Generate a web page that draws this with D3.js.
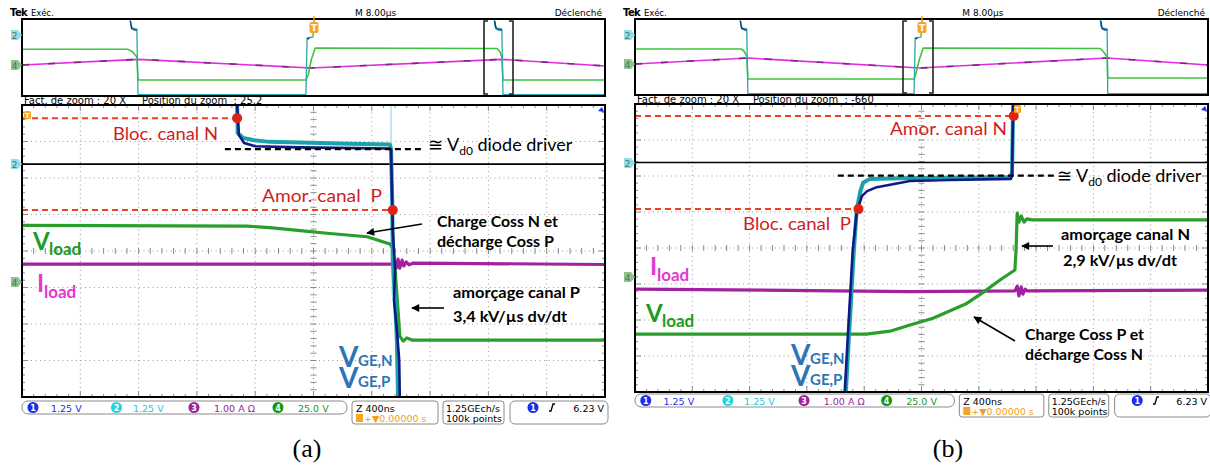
<!DOCTYPE html>
<html><head><meta charset="utf-8">
<script src="https://cdn.jsdelivr.net/npm/d3@7"></script>
<style>body{margin:0;background:#fff} svg{display:block} text{white-space:pre}</style>
</head><body><svg id="c" width="1210" height="468"></svg>
<script>
// ---------------- DATA (x in divisions 0..10, y in divisions 0..8 from bottom) ----------------
// Panel (a) overview strip
const aTopGreen   = [[0,4.85],[1.82,4.85],[1.90,4.57],[1.97,4.05],[1.99,1.66],[4.87,1.66],[4.91,2.18],[4.96,3.74],[5.03,4.99],[8.15,4.94],[8.20,4.57],[8.23,4.05],[8.25,1.66],[10,1.66]];
const aTopMagenta = [[0,3.22],[1.99,3.81],[4.96,2.91],[8.23,3.81],[10,3.12]];
const aTopCyan    = [[1.85,8],[1.87,7.27],[1.90,7.06],[1.97,6.96],[1.99,0.15],[4.87,0.15],[4.89,6.03],[4.99,6.13],[5.01,8],null,[8.10,8],[8.11,7.27],[8.15,7.06],[8.23,6.96],[8.25,0.15],[10,0.15]];
const aTopBlue    = [[1.86,7.8],[1.88,7.0],[1.94,6.85],[1.97,6.85],null,[4.89,5.9],[4.93,6.0],null,[8.11,7.8],[8.13,7.0],[8.19,6.85],[8.23,6.85]];
// Panel (a) zoomed view
const aRefLine  = [[0,6.38],[10,6.38]];
const aBlocN    = [[0,7.64],[3.69,7.64]];
const aAmorP    = [[0,5.12],[6.36,5.12]];
const aVd0      = [[3.48,6.79],[6.91,6.79]];
const aVgeGhost = [[6.33,8],[6.33,6.9],[6.35,2.8]];
const aVgeCyan  = [[3.69,8],[3.70,7.23],[3.79,7.10],[3.96,7.04],[4.25,6.99],[4.77,6.97],[5.63,6.94],[6.31,6.92],[6.33,6.79],[6.35,5.40],[6.36,3.75],[6.40,2.66],[6.43,1.56],[6.45,0]];
const aVgeBlue  = [[3.69,8],[3.72,7.18],[3.81,6.96],[4.00,6.87],[4.77,6.84],[6.31,6.81],[6.33,6.77],[6.36,4.58],[6.40,3.48],[6.38,2.66],[6.43,1.84],[6.47,1.01],[6.48,0]];
const aVload    = [[0,4.70],[3.86,4.68],[4.25,4.64],[4.77,4.56],[5.28,4.48],[5.92,4.39],[6.31,4.19],[6.36,4.08],[6.40,3.48],[6.45,2.38],[6.48,1.67],[6.54,1.53],[6.60,1.62],[6.69,1.56],[10,1.56]];
const aIload    = [[0,3.64],[6.36,3.64],[6.42,3.53],[6.45,3.78],[6.48,3.53],[6.52,3.75],[6.55,3.59],[6.59,3.70],[6.64,3.62],[6.71,3.67],[10,3.63]];
const aDots     = [[3.69,7.64],[6.36,5.12]];
// Panel (b) overview strip
const bTopGreen   = [[0,4.84],[1.85,4.84],[1.90,4.63],[1.95,4.11],[1.97,1.68],[4.87,1.68],[4.90,2.21],[4.96,3.68],[5.03,4.95],[8.12,4.89],[8.18,4.53],[8.24,4.0],[8.25,1.79],[10,1.79]];
const bTopMagenta = [[0,3.26],[1.97,3.89],[4.97,2.84],[8.24,3.89],[10,3.16]];
const bTopCyan    = [[1.83,8],[1.85,7.26],[1.88,7.05],[1.95,6.95],[1.97,0.15],[4.87,0.15],[4.89,6.0],[4.99,6.1],[5.01,8],null,[8.12,8],[8.13,7.26],[8.17,7.05],[8.24,6.95],[8.25,0.15],[10,0.15]];
const bTopBlue    = [[1.84,7.8],[1.86,7.0],[1.92,6.85],[1.95,6.85],null,[4.89,5.9],[4.93,6.0],null,[8.13,7.8],[8.15,7.0],[8.20,6.85],[8.24,6.85]];
// Panel (b) zoomed view
const bRefLine  = [[0,6.375],[10,6.375]];
const bAmorN    = [[0,7.67],[6.61,7.67]];
const bBlocP    = [[0,5.08],[3.90,5.08]];
const bVd0      = [[3.54,6.01],[7.33,6.01]];
const bVgeCyan  = [[3.68,0],[3.75,2.0],[3.82,3.94],[3.87,5.06],[3.93,5.56],[3.98,5.81],[4.10,5.92],[4.62,5.94],[6.56,5.97],[6.58,6.11],[6.60,8]];
const bVgeBlue  = [[3.66,0],[3.73,2.0],[3.80,3.94],[3.87,5.0],[3.96,5.44],[4.05,5.58],[4.22,5.69],[4.80,5.86],[5.50,5.89],[6.56,5.92],[6.58,6.03],[6.60,8]];
const bVload    = [[0,1.61],[4.04,1.61],[4.45,1.69],[4.80,1.86],[5.20,2.05],[5.79,2.46],[6.07,2.76],[6.37,3.11],[6.63,3.39],[6.65,3.94],[6.67,4.97],[6.70,4.72],[6.74,4.89],[6.79,4.72],[6.84,4.81],[6.93,4.78],[10,4.78]];
const bIload    = [[0,2.86],[4.80,2.79],[6.63,2.81],[6.67,2.94],[6.70,2.67],[6.74,2.92],[6.77,2.72],[6.81,2.86],[6.84,2.81],[10,2.83]];
const bDots     = [[6.61,7.67],[3.90,5.08]];
// Texts
const hdrLeft = "Exéc.", hdrMid = "M 8.00µs", hdrRight = "Déclenché";
const zoomFactor = "Fact. de zoom : 20 X";
const zoomPos = ["Position du zoom  : 25.2", "Position du zoom  : -660"];
const chanNums = ["1","2","3","4"];
const chanScales = ["1.25 V","1.25 V","1.00 A Ω","25.0 V"];
const timeBase = "Z 400ns", trigPos = "+▼0.00000 s", sampleRate = "1.25GEch/s", recLen = "100k points", trigLevel = "6.23 V";
const captions = ["(a)","(b)"];

// ---------------- DRAWING ----------------
const svg = d3.select("#c");
const FS = "'DejaVu Sans', sans-serif";
const FA = "Lato, 'Open Sans', sans-serif";
const C = {green:"#2a9e2a", greenTop:"#3cc43c", mag:"#a0229e", magTop:"#e22ae0", cyan:"#1aa2a8", cyanTop:"#2aa8b0",
           blue:"#0e1a86", red:"#f0401c", redDot:"#dd2414", redTxt:"#d01e1e", vge:"#2e75b6", iTxt:"#e03ad0", vTxt:"#1f9a24"};
const chanColors = ["#1a2ee8","#22d3e0","#a0209a","#109a10"];

const defs = svg.append("defs");
defs.append("marker").attr("id","ah").attr("viewBox","0 0 10 10").attr("refX",9).attr("refY",5)
  .attr("markerUnits","userSpaceOnUse").attr("markerWidth",10).attr("markerHeight",8).attr("orient","auto")
  .append("path").attr("d","M0,0 L10,5 L0,10 z").attr("fill","#000");

const lineGen = (xs, ys) => d3.line().defined(d => d !== null).x(d => xs(d[0])).y(d => ys(d[1]));

function trace(g, gen, data, color, w, dash, op) {
  return g.append("path").attr("d", gen(data)).attr("fill","none").attr("stroke", color)
    .attr("stroke-width", w).attr("stroke-dasharray", dash || null).attr("stroke-linejoin","round")
    .attr("opacity", op == null ? 1 : op);
}

function chanMarker(g, x, y, label, fill) {
  g.append("path").attr("d", `M${x-11},${y-5} h7 l4,5 l-4,5 h-7 z`).attr("fill", fill);
  g.append("text").attr("x", x-7.5).attr("y", y+3.5).attr("font-family", FS).attr("font-size", 9)
    .attr("text-anchor","middle").attr("fill","#5a6a6a").text(label);
}

function trigMarker(g, x, y) {
  g.append("line").attr("x1",x).attr("x2",x).attr("y1",y-6).attr("y2",y).attr("stroke","#f0a020").attr("stroke-width",1.5);
  g.append("rect").attr("x",x-4.5).attr("y",y).attr("width",9).attr("height",11).attr("rx",2).attr("fill","#f5a623");
  g.append("text").attr("x",x).attr("y",y+9).attr("text-anchor","middle").attr("font-family",FS).attr("font-weight",700)
    .attr("font-size",9).attr("fill","#fff").text("T");
}

function txt(g, s, x, y, size, opt) {
  opt = opt || {};
  const t = g.append("text").attr("x", x).attr("y", y).attr("font-family", opt.ff || FA).attr("font-size", size)
    .attr("font-weight", opt.bold ? 700 : 400).attr("fill", opt.color || "#000").text(s);
  if (opt.anchor) t.attr("text-anchor", opt.anchor);
  if (opt.w) t.attr("textLength", opt.w).attr("lengthAdjust", "spacingAndGlyphs");
  return t;
}

function sublabel(g, x, y, main, sub, ms, ss, sdx, sdy, color) {
  const t = g.append("text").attr("x", x).attr("y", y).attr("font-family", FA).attr("font-weight", 700).attr("fill", color);
  t.append("tspan").attr("font-size", ms).text(main);
  t.append("tspan").attr("x", x + sdx).attr("dy", sdy).attr("font-size", ss).text(sub);
}

// two stacked V_GE labels in one text element
function vgeLabel(g, x, y, gap, color) {
  const t = g.append("text").attr("x", x).attr("y", y).attr("font-family", FA).attr("font-weight", 700).attr("fill", color);
  t.append("tspan").attr("font-size", 28).text("V");
  t.append("tspan").attr("x", x + 19).attr("dy", -1).attr("font-size", 15).text("GE,N");
  t.append("tspan").attr("x", x).attr("dy", gap + 1).attr("font-size", 28).text("V");
  t.append("tspan").attr("x", x + 19).attr("dy", -1).attr("font-size", 15).text("GE,P");
}

function vd0Label(g, x, y) {
  const t = g.append("text").attr("x", x).attr("y", y).attr("font-family", FA).attr("font-size", 18).attr("fill","#000");
  t.append("tspan").text("≅ V");
  t.append("tspan").attr("dy", 4).attr("font-size", 12).text("d0");
  t.append("tspan").attr("dy", -4).text(" diode driver");
}

function arrow(g, x1, y1, x2, y2) {
  g.append("line").attr("x1",x1).attr("y1",y1).attr("x2",x2).attr("y2",y2).attr("stroke","#000")
    .attr("stroke-width",1.6).attr("marker-end","url(#ah)");
}

function drawPanel(P, idx) {
  const g = svg.append("g");
  const D = P.data;
  const tx = d3.scaleLinear().domain([0,10]).range([P.top.x0, P.top.x1]);
  const ty = d3.scaleLinear().domain([0,8]).range([P.top.y1, P.top.y0]);
  const mx = d3.scaleLinear().domain([0,10]).range([P.main.x0, P.main.x1]);
  const my = d3.scaleLinear().domain([0,8]).range([P.main.y1, P.main.y0]);

  // header
  txt(g, "Tek", P.top.x0 - 12, 16, 10, {ff: FS, bold: true}).attr("letter-spacing", -0.6);
  txt(g, hdrLeft, P.top.x0 + 9, 16, 8.5, {ff: FS});
  txt(g, hdrMid, P.top.x0 + 333 * P.k, 16, 9, {ff: FS});
  txt(g, hdrRight, P.top.x1 - 3, 16, 9, {ff: FS, anchor: "end"});

  // overview strip
  const cidT = "ct" + idx;
  defs.append("clipPath").attr("id", cidT).append("rect").attr("x", P.top.x0).attr("y", P.top.y0)
    .attr("width", P.top.x1 - P.top.x0).attr("height", P.top.y1 - P.top.y0);
  const gt = g.append("g").attr("clip-path", `url(#${cidT})`);
  const tg = lineGen(tx, ty);
  trace(gt, tg, D.topMagenta, C.magTop, 1.6);
  trace(gt, tg, D.topMagenta, "#7a2a7a", 1.6, "7,19");
  trace(gt, tg, D.topGreen, C.greenTop, 1.6);
  trace(gt, tg, D.topCyan, C.cyanTop, 1.3);
  trace(gt, tg, D.topBlue, "#1a3a8a", 1.4);
  g.append("rect").attr("x", P.top.x0).attr("y", P.top.y0).attr("width", P.top.x1 - P.top.x0)
    .attr("height", P.top.y1 - P.top.y0).attr("fill","none").attr("stroke","#000").attr("stroke-width",2);
  // zoom bracket
  const [bx0, bx1] = P.bracket;
  g.append("path").attr("d", `M${bx0+4},${P.top.y0+2} H${bx0} V${P.top.y1-2} H${bx0+4} M${bx1-4},${P.top.y0+2} H${bx1} V${P.top.y1-2} H${bx1-4}`)
    .attr("fill","none").attr("stroke","#222").attr("stroke-width",1.6);
  trigMarker(g, P.trigX, P.top.y0 + 3);
  chanMarker(g, P.top.x0, P.mk.t2, "2", "#8fe2ea");
  chanMarker(g, P.top.x0, P.mk.t4, "4", "#8cc48c");

  // zoom texts
  txt(g, zoomFactor, P.main.x0 + 2, P.main.y0 - 1, 10, {ff: FS});
  txt(g, zoomPos[idx], P.main.x0 + 120 * P.k, P.main.y0 - 1, 10, {ff: FS});

  // main grid
  const gg = g.append("g");
  for (let i = 1; i < 10; i++) gg.append("line").attr("x1", mx(i)).attr("x2", mx(i)).attr("y1", my(0)).attr("y2", my(8))
    .attr("stroke","#9a9a9a").attr("stroke-width",1).attr("stroke-dasharray","1,3.5");
  for (let j = 1; j < 8; j++) gg.append("line").attr("x1", mx(0)).attr("x2", mx(10)).attr("y1", my(j)).attr("y2", my(j))
    .attr("stroke","#9a9a9a").attr("stroke-width",1).attr("stroke-dasharray","1,3.5");
  for (let k = 1; k < 50; k++) {
    const X = mx(k / 5);
    gg.append("line").attr("x1",X).attr("x2",X).attr("y1",my(4)-3).attr("y2",my(4)+3).attr("stroke","#8a8a8a");
    gg.append("line").attr("x1",X).attr("x2",X).attr("y1",my(0)).attr("y2",my(0)-(k%5?3:6)).attr("stroke","#8a8a8a");
    gg.append("line").attr("x1",X).attr("x2",X).attr("y1",my(8)).attr("y2",my(8)+(k%5?3:6)).attr("stroke","#8a8a8a");
  }
  for (let k = 1; k < 40; k++) {
    const Y = my(k / 5);
    gg.append("line").attr("y1",Y).attr("y2",Y).attr("x1",mx(5)-3).attr("x2",mx(5)+3).attr("stroke","#8a8a8a");
    gg.append("line").attr("y1",Y).attr("y2",Y).attr("x1",mx(0)).attr("x2",mx(0)+(k%5?3:6)).attr("stroke","#8a8a8a");
    gg.append("line").attr("y1",Y).attr("y2",Y).attr("x1",mx(10)).attr("x2",mx(10)-(k%5?3:6)).attr("stroke","#8a8a8a");
  }

  const cidM = "cm" + idx;
  defs.append("clipPath").attr("id", cidM).append("rect").attr("x", P.main.x0).attr("y", P.main.y0)
    .attr("width", P.main.x1 - P.main.x0).attr("height", P.main.y1 - P.main.y0);
  const gm = g.append("g").attr("clip-path", `url(#${cidM})`);
  const mg = lineGen(mx, my);
  trace(gm, mg, D.refLine, "#000", 1.6);
  trace(gm, mg, D.iload, C.mag, 3.2);
  trace(gm, mg, D.vload, C.green, 3.2);
  trace(gm, mg, D.red1, C.red, 2, "6,4");
  trace(gm, mg, D.red2, C.red, 2, "6,4");
  if (D.ghost) trace(gm, mg, D.ghost, "#a8e6ec", 1.5);
  trace(gm, mg, D.vgeCyan, C.cyan, 4);
  trace(gm, mg, D.vgeBlue, C.blue, 2.6);
  trace(gm, mg, D.vd0, "#000", 2.2, "6,4");
  gm.selectAll("circle.d").data(D.dots).join("circle").attr("cx", d => mx(d[0])).attr("cy", d => my(d[1]))
    .attr("r", 5).attr("fill", C.redDot);

  g.append("rect").attr("x", P.main.x0).attr("y", P.main.y0).attr("width", P.main.x1 - P.main.x0)
    .attr("height", P.main.y1 - P.main.y0).attr("fill","none").attr("stroke","#000").attr("stroke-width",2);
  chanMarker(g, P.main.x0, P.mk.m2, "2", "#8fe2ea");
  chanMarker(g, P.main.x0, P.mk.m4, "4", "#8cc48c");
  // blue arrow top right
  g.append("path").attr("d", `M${P.main.x1-7},${P.main.y0+6} l4,-4 l2,5 z`).attr("fill","#1a2ee8");
  if (P.mainTrig) {
    const [x, y] = P.mainTrig;
    g.append("rect").attr("x", x).attr("y", y).attr("width", 7).attr("height", 8).attr("rx",1.5).attr("fill","#f5a623");
    g.append("text").attr("x", x+3.5).attr("y", y+7).attr("text-anchor","middle").attr("font-family",FS)
      .attr("font-size",7).attr("font-weight",700).attr("fill","#fff").text("T");
  }

  // annotations
  P.red.forEach(a => txt(g, a.t, a.x, a.y, 18, {color: C.redTxt, w: a.w}));
  vd0Label(g, P.vd0Txt[0], P.vd0Txt[1]);
  P.notes.forEach(a => txt(g, a.t, a.x, a.y, 16, {bold: true, w: a.w}));
  P.arrows.forEach(a => arrow(g, a[0], a[1], a[2], a[3]));
  sublabel(g, P.vl[0], P.vl[1], "V", "load", 24, 17, 16, 5, C.vTxt);
  sublabel(g, P.il[0], P.il[1], "I", "load", 24, 17, 7, 6, C.iTxt);
  vgeLabel(g, P.vge[0], P.vge[1], 21, C.vge);

  // status bar
  const X = v => P.main.x0 + v * P.k, sy = P.statusY;
  const box = (a, b, h, r) => g.append("rect").attr("x", X(a)).attr("y", sy).attr("width", X(b) - X(a)).attr("height", h)
    .attr("rx", r).attr("fill","none").attr("stroke","#8a8a8a").attr("stroke-width",1);
  box(0, 325, 13, 6);
  box(330, 416, 23, 3);
  box(421, 482, 23, 3);
  box(488, 586, 23, 5);
  const cx = [11, 94.5, 172, 256], tx0 = [29, 111, 192, 276];
  chanNums.forEach((n, i) => {
    g.append("circle").attr("cx", X(cx[i])).attr("cy", sy + 6.5).attr("r", 5.5).attr("fill", chanColors[i]);
    txt(g, n, X(cx[i]), sy + 10, 8, {ff: FS, bold: true, color: "#fff", anchor: "middle"});
    txt(g, chanScales[i], X(tx0[i]), sy + 10.5, 9.5, {ff: FS, color: i === 1 ? "#1fc6dc" : chanColors[i]});
  });
  txt(g, timeBase, X(334), sy + 10.5, 9.5, {ff: FS});
  g.append("rect").attr("x", X(334)).attr("y", sy + 13).attr("width", 7).attr("height", 8).attr("fill","#f5a623");
  txt(g, trigPos, X(334) + 8, sy + 20.5, 9.5, {ff: FS, color: "#f0a020"});
  txt(g, sampleRate, X(424), sy + 10.5, 9.5, {ff: FS});
  txt(g, recLen, X(424), sy + 20.5, 9.5, {ff: FS});
  g.append("circle").attr("cx", X(511)).attr("cy", sy + 6.5).attr("r", 5.5).attr("fill", chanColors[0]);
  txt(g, "1", X(511), sy + 10, 8, {ff: FS, bold: true, color: "#fff", anchor: "middle"});
  g.append("path").attr("d", `M${X(527)},${sy+10} h2 l2,-7 h2`).attr("fill","none").attr("stroke","#000").attr("stroke-width",1.3);
  txt(g, trigLevel, X(582), sy + 10.5, 9.5, {ff: FS, anchor: "end"});

  // caption
  txt(g, captions[idx], P.caption[0], P.caption[1], 26, {ff: "'Liberation Serif', serif", anchor: "middle"});
}

const PA = {
  k: 1,
  top: {x0: 22, x1: 605, y0: 19, y1: 96},
  main: {x0: 22, x1: 605, y0: 105, y1: 397},
  statusY: 401, bracket: [484, 513], trigX: 314, mainTrig: [24, 111],
  mk: {t2: 35, t4: 65, m2: 164, m4: 282},
  caption: [307, 457],
  data: {topGreen: aTopGreen, topMagenta: aTopMagenta, topCyan: aTopCyan, topBlue: aTopBlue,
         refLine: aRefLine, red1: aBlocN, red2: aAmorP, vd0: aVd0, ghost: aVgeGhost, vgeCyan: aVgeCyan, vgeBlue: aVgeBlue,
         vload: aVload, iload: aIload, dots: aDots},
  red: [{t: "Bloc. canal N", x: 113, y: 140, w: 105}, {t: "Amor. canal  P", x: 262, y: 202, w: 120}],
  vd0Txt: [428, 151],
  notes: [{t: "Charge Coss N et", x: 437, y: 227, w: 121}, {t: "décharge Coss P", x: 437, y: 247, w: 117},
          {t: "amorçage canal P", x: 453, y: 298, w: 127}, {t: "3,4 kV/µs dv/dt", x: 453, y: 322, w: 114}],
  arrows: [[422, 224, 367, 233], [444, 308, 412, 308]],
  vl: [33, 250], il: [37, 292], vge: [339, 367]
};
const PB = {
  k: 573 / 583,
  top: {x0: 635, x1: 1208, y0: 19, y1: 95},
  main: {x0: 635, x1: 1208, y0: 104, y1: 392},
  statusY: 394, bracket: [903, 933], trigX: 922, mainTrig: [1014, 105],
  mk: {t2: 35, t4: 64, m2: 163, m4: 277},
  caption: [948, 457],
  data: {topGreen: bTopGreen, topMagenta: bTopMagenta, topCyan: bTopCyan, topBlue: bTopBlue,
         refLine: bRefLine, red1: bAmorN, red2: bBlocP, vd0: bVd0, ghost: null, vgeCyan: bVgeCyan, vgeBlue: bVgeBlue,
         vload: bVload, iload: bIload, dots: bDots},
  red: [{t: "Amor. canal N", x: 890, y: 135, w: 117}, {t: "Bloc. canal  P", x: 743, y: 230, w: 108}],
  vd0Txt: [1057, 182],
  notes: [{t: "amorçage canal N", x: 1061, y: 240, w: 129}, {t: "2,9 kV/µs dv/dt", x: 1063, y: 266, w: 114},
          {t: "Charge Coss P et", x: 1025, y: 340, w: 119}, {t: "décharge Coss N", x: 1025, y: 360, w: 118}],
  arrows: [[1053, 246, 1022, 246], [1015, 341, 974, 317]],
  vl: [646, 322], il: [650, 275], vge: [791, 365]
};
drawPanel(PA, 0);
drawPanel(PB, 1);
</script></body></html>
